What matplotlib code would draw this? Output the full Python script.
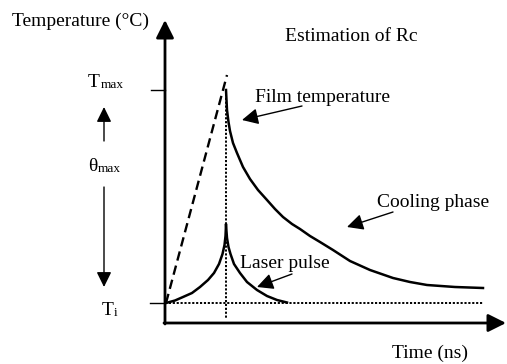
"""Schematic: film temperature vs time under a laser pulse (estimation of Rc)."""
import matplotlib

matplotlib.use("Agg")
import matplotlib.pyplot as plt

plt.rcParams["font.family"] = ["Liberation Serif", "DejaVu Serif"]

# all values, in picture units (x right, y down)
film_t = [226, 227, 228.5, 230, 233, 237, 243, 250, 258, 267, 275, 283, 292,
          300, 310, 320, 333, 350, 370, 393, 410, 427, 455, 483]
film_T = [90, 110, 122, 131, 143, 153, 167, 179, 190, 200, 209, 217, 224,
          229, 236, 242, 250, 261, 270, 278, 282, 285, 287, 288]

pulse_rise_t = [166, 175, 183, 192, 200, 208, 214, 219, 222.5, 224.5, 225.5, 226]
pulse_rise_T = [303, 300.5, 297, 293, 287, 280, 273, 264, 254, 245, 236, 225]
pulse_fall_t = [226, 227, 228.5, 230.5, 234, 240, 247, 257, 267, 277, 287]
pulse_fall_T = [225, 238, 247, 254, 264, 273, 282, 290, 296, 300, 302.5]

heating_t = [166, 227]
heating_T = [303, 75]

t_origin, t_end, t_arrow = 165, 483, 507
T_axis, T_i, T_max, T_top = 323, 302.5, 90, 20
t_peak = 226

fig = plt.figure(figsize=(5.07, 3.64), dpi=100)
ax = fig.add_axes([0, 0, 1, 1])
ax.set_xlim(0, 507)
ax.set_ylim(364, 0)
ax.axis("off")

# axes with arrow heads
axis_arrow = dict(arrowstyle="-|>,head_length=0.6,head_width=0.3",
                  mutation_scale=18, lw=2, color="k", shrinkA=0, shrinkB=0)
ax.annotate("", xy=(t_origin, T_top), xytext=(t_origin, T_axis + 1),
            arrowprops=axis_arrow)
ax.annotate("", xy=(t_arrow - 1, T_axis), xytext=(t_origin - 1, T_axis),
            arrowprops=axis_arrow)

# ticks at Tmax and Ti
ax.plot([151, t_origin], [T_max, T_max], color="k", lw=1)
ax.plot([150, t_origin], [T_i, T_i], color="k", lw=1)

# reference lines
ax.plot([t_origin, t_end], [T_i, T_i], color="k", lw=1.4, ls=(0, (1.1, 0.9)))
ax.plot([t_peak, t_peak], [T_max, 318], color="k", lw=1.4, ls=(0, (1.1, 0.9)))

# curves
ax.plot(heating_t, heating_T, color="k", lw=1.7, ls=(0, (4, 2.2)))
ax.plot(film_t, film_T, color="k", lw=1.8, solid_joinstyle="round")
ax.plot(pulse_rise_t, pulse_rise_T, color="k", lw=1.8, solid_joinstyle="round")
ax.plot(pulse_fall_t, pulse_fall_T, color="k", lw=1.8, solid_joinstyle="round")

# theta_max double arrow
thin_arrow = dict(arrowstyle="-|>,head_length=0.65,head_width=0.32",
                  mutation_scale=14, lw=1, color="k", shrinkA=0, shrinkB=0)
ax.annotate("", xy=(104, 107), xytext=(104, 141), arrowprops=thin_arrow)
ax.annotate("", xy=(104, 287), xytext=(104, 187), arrowprops=thin_arrow)

fs = 14
sub = 9.5
ax.text(12, 26, "Temperature (°C)", fontsize=fs, va="baseline")
ax.text(285, 41, "Estimation of Rc", fontsize=fs, va="baseline")
ax.text(88, 87, "T", fontsize=fs, va="baseline")
ax.text(100.5, 88.5, "max", fontsize=sub, va="baseline")
ax.text(88, 171, "θ", fontsize=fs, va="baseline")
ax.text(98, 172.5, "max", fontsize=sub, va="baseline")
ax.text(102, 315, "T", fontsize=fs, va="baseline")
ax.text(114, 316.5, "i", fontsize=sub, va="baseline")
ax.text(392, 358, "Time (ns)", fontsize=fs, va="baseline")

# labelled pointers
pointer = dict(arrowstyle="-|>,head_length=0.7,head_width=0.35",
               mutation_scale=14, lw=1, color="k", shrinkA=0, shrinkB=0)
ax.text(255, 102, "Film temperature", fontsize=fs, va="baseline")
ax.annotate("", xy=(242, 120), xytext=(302, 106), arrowprops=pointer)
ax.text(377, 207, "Cooling phase", fontsize=fs, va="baseline")
ax.annotate("", xy=(347, 227), xytext=(393, 212), arrowprops=pointer)
ax.text(240, 268, "Laser pulse", fontsize=fs, va="baseline")
ax.annotate("", xy=(257, 287), xytext=(292, 274), arrowprops=pointer)

fig.savefig("out.png", dpi=100)
plt.close(fig)
